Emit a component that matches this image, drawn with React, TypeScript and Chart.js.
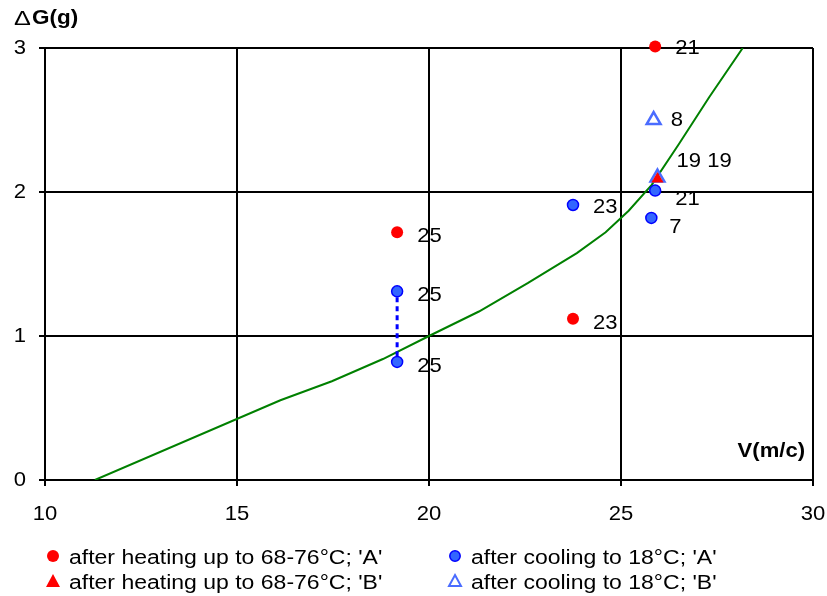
import React, { useEffect, useRef } from "react";
import { Chart, registerables } from "chart.js";

Chart.register(...registerables);

// Green fitted curve
const curveV = [11.3, 16.13, 17.47, 18.8, 20.0, 21.3, 22.57, 23.85, 24.6, 25.2, 25.8, 26.5, 27.3, 28.17];
const curveG = [0.0, 0.554, 0.686, 0.84, 1.0, 1.17, 1.367, 1.576, 1.72, 1.87, 2.05, 2.33, 2.66, 3.0];

// after heating up to 68-76°C; 'A'
const heatA_V = [19.17, 23.75, 25.89];
const heatA_G = [1.72, 1.12, 3.01];
const heatA_L = ["25", "23", "21"];

// after cooling to 18°C; 'A'
const coolA_V = [19.17, 19.17, 23.75, 25.89, 25.79];
const coolA_G = [1.31, 0.82, 1.91, 2.01, 1.82];
const coolA_L = ["25", "25", "23", "21", "7"];

// after heating up to 68-76°C; 'B'
const heatB_V = [25.95];
const heatB_G = [2.09];
const heatB_L = ["19 19"];

// after cooling to 18°C; 'B'
const coolB_V = [25.85, 25.95];
const coolB_G = [2.5, 2.1];
const coolB_L = ["8", ""];

// dotted link between the two cooled 'A' points at V=19.17
const linkV = [19.17, 19.17];
const linkG = [0.86, 1.28];

const xTicks = [10, 15, 20, 25, 30];
const yTicks = [0, 1, 2, 3];

const legendLabels = [
  "after heating up to 68-76°C; 'A'",
  "after cooling to 18°C; 'A'",
  "after heating up to 68-76°C; 'B'",
  "after cooling to 18°C; 'B'",
];

const FONT = "'Liberation Sans', Arial, sans-serif";

const zip = (xs: number[], ys: number[]) => xs.map((x, i) => ({ x, y: ys[i] }));

function txt(ctx: any, t: string, x: number, y: number, align: string, font: string, sx: number) {
  ctx.save();
  ctx.translate(x, y);
  ctx.scale(sx, 1);
  ctx.font = font;
  ctx.textAlign = align;
  ctx.textBaseline = "middle";
  ctx.fillStyle = "#000";
  ctx.fillText(t, 0, 0);
  ctx.restore();
}

export default function App() {
  const ref = useRef<HTMLCanvasElement | null>(null);

  useEffect(() => {
    document.body.style.margin = "0";
    const canvas = ref.current!;

    const labelOffsets: Record<string, [number, number][]> = {
      heatA: [[20, 4], [20, 4], [20, 2]],
      coolA: [[20, 4], [20, 4], [20, 2], [20, 9], [18, 9]],
      heatB: [[19, -18]],
      coolB: [[17, 0], [0, 0]],
    };

    const extras = {
      id: "extras",
      afterDatasetsDraw(chart: any) {
        const ctx = chart.ctx;
        const xs = chart.scales.x;
        const ys = chart.scales.y;
        const lab = `21px ${FONT}`;
        const tickF = `21px ${FONT}`;

        // tick labels
        xTicks.forEach((v) => txt(ctx, String(v), xs.getPixelForValue(v), 514, "center", tickF, 1.05));
        yTicks.forEach((v) => txt(ctx, String(v), 26, ys.getPixelForValue(v), "right", tickF, 1.05));

        // point labels
        const groups: [string, number[], number[], string[]][] = [
          ["heatA", heatA_V, heatA_G, heatA_L],
          ["coolA", coolA_V, coolA_G, coolA_L],
          ["heatB", heatB_V, heatB_G, heatB_L],
          ["coolB", coolB_V, coolB_G, coolB_L],
        ];
        for (const [key, vx, vy, lb] of groups) {
          lb.forEach((t, i) => {
            if (!t) return;
            const [dx, dy] = labelOffsets[key][i];
            txt(ctx, t, xs.getPixelForValue(vx[i]) + dx, ys.getPixelForValue(vy[i]) + dy, "left", lab, 1.05);
          });
        }

        // axis titles
        txt(ctx, "Δ", 14, 19, "left", `21px ${FONT}`, 1.2);
        txt(ctx, "G(g)", 32, 18, "left", `bold 21px ${FONT}`, 1.07);
        txt(ctx, "V(m/c)", 805, 451, "right", `bold 21px ${FONT}`, 1.05);

        // legend
        const rows = [556, 581];
        const cols = [53, 455];
        const textX = [69, 471];
        ctx.save();
        legendLabels.forEach((t, i) => {
          const col = i % 2;
          const row = Math.floor(i / 2);
          const cx = cols[col];
          const cy = rows[row];
          txt(ctx, t, textX[col], cy + 2, "left", `20px ${FONT}`, 1.15);
          ctx.beginPath();
          if (i === 0) {
            ctx.fillStyle = "#ff0000";
            ctx.arc(cx, cy, 6, 0, Math.PI * 2);
            ctx.fill();
          } else if (i === 1) {
            ctx.fillStyle = "#3366ff";
            ctx.strokeStyle = "#0000ff";
            ctx.lineWidth = 1.5;
            ctx.arc(cx, cy, 5.2, 0, Math.PI * 2);
            ctx.fill();
            ctx.stroke();
          } else if (i === 2) {
            ctx.fillStyle = "#ff0000";
            ctx.moveTo(cx, cy - 7);
            ctx.lineTo(cx + 7, cy + 6);
            ctx.lineTo(cx - 7, cy + 6);
            ctx.closePath();
            ctx.fill();
          } else {
            ctx.strokeStyle = "#4a6cff";
            ctx.lineWidth = 2;
            ctx.moveTo(cx, cy - 6);
            ctx.lineTo(cx + 6, cy + 5);
            ctx.lineTo(cx - 6, cy + 5);
            ctx.closePath();
            ctx.stroke();
          }
        });
        ctx.restore();
      },
    };

    const chart = new Chart(canvas, {
      type: "scatter",
      data: {
        datasets: [
          {
            label: legendLabels[0],
            data: zip(heatA_V, heatA_G),
            pointStyle: "circle",
            pointRadius: 6,
            backgroundColor: "#ff0000",
            borderColor: "#ff0000",
            borderWidth: 0,
            clip: false,
            order: 1,
          },
          {
            label: legendLabels[1],
            data: zip(coolA_V, coolA_G),
            pointStyle: "circle",
            pointRadius: 5.5,
            backgroundColor: "#3366ff",
            borderColor: "#0000ff",
            borderWidth: 1.5,
            clip: false,
            order: 2,
          },
          {
            label: legendLabels[2],
            data: zip(heatB_V, heatB_G),
            pointStyle: "triangle",
            pointRadius: 7,
            backgroundColor: "#ff0000",
            borderColor: "#ff0000",
            borderWidth: 0,
            clip: false,
            order: 1,
          },
          {
            label: legendLabels[3],
            data: zip(coolB_V, coolB_G),
            pointStyle: "triangle",
            pointRadius: 8,
            backgroundColor: "rgba(255,255,255,0)",
            borderColor: "#4a6cff",
            borderWidth: 2.5,
            clip: false,
            order: 3,
          },
          {
            label: "link",
            data: zip(linkV, linkG),
            showLine: true,
            pointRadius: 0,
            borderColor: "#0000ff",
            borderWidth: 3,
            borderDash: [5, 4],
            order: 5,
          },
          {
            label: "curve",
            data: zip(curveV, curveG),
            showLine: true,
            pointRadius: 0,
            borderColor: "#008000",
            borderWidth: 2,
            tension: 0,
            order: 6,
          },
        ],
      },
      options: {
        responsive: false,
        animation: false,
        devicePixelRatio: 1,
        layout: { padding: { left: 0, right: 14, top: 48, bottom: 0 } },
        plugins: { legend: { display: false }, tooltip: { enabled: false } },
        scales: {
          x: {
            type: "linear",
            min: 10,
            max: 30,
            afterFit: (s: any) => {
              s.height = 116;
            },
            afterBuildTicks: (s: any) => {
              s.ticks = xTicks.map((v) => ({ value: v }));
            },
            ticks: { display: false },
            grid: { color: "#000", lineWidth: 2, tickLength: 6, tickColor: "#000", tickWidth: 2 },
            border: { color: "#000", width: 2 },
          },
          y: {
            type: "linear",
            min: 0,
            max: 3,
            afterFit: (s: any) => {
              s.width = 45;
            },
            afterBuildTicks: (s: any) => {
              s.ticks = yTicks.map((v) => ({ value: v }));
            },
            ticks: { display: false },
            grid: { color: "#000", lineWidth: 2, tickLength: 6, tickColor: "#000", tickWidth: 2 },
            border: { color: "#000", width: 2 },
          },
        },
      },
      plugins: [extras],
    } as any);

    return () => chart.destroy();
  }, []);

  return <canvas ref={ref} width={827} height={596} style={{ display: "block" }} />;
}
